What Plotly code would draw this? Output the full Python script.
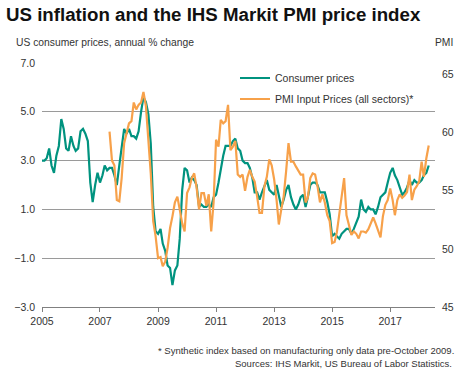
import pandas as pd
import plotly.graph_objects as go

# ---------------- data ----------------
cpi_start = "2005-01-01"
# US consumer prices, annual % change (monthly, Jan 2005 - May 2018)
cpi = [
    3.0, 3.0, 3.1, 3.5, 2.8, 2.5, 3.2, 3.6, 4.7, 4.3, 3.5, 3.4,      # 2005
    4.0, 3.6, 3.4, 3.5, 4.2, 4.3, 4.1, 3.8, 2.1, 1.3, 2.0, 2.5,      # 2006
    2.1, 2.4, 2.8, 2.6, 2.7, 2.7, 2.4, 2.0, 2.8, 3.5, 4.3, 4.1,      # 2007
    4.3, 4.0, 4.0, 3.9, 4.2, 5.0, 5.6, 5.4, 4.9, 3.7, 1.1, 0.1,      # 2008
    0.0, 0.2, -0.4, -0.7, -1.3, -1.4, -2.1, -1.5, -1.3, -0.2, 1.8, 2.7,  # 2009
    2.6, 2.1, 2.3, 2.2, 2.0, 1.1, 1.2, 1.1, 1.1, 1.2, 1.1, 1.5,      # 2010
    1.6, 2.1, 2.7, 3.2, 3.6, 3.6, 3.6, 3.8, 3.9, 3.5, 3.4, 3.0,      # 2011
    2.9, 2.9, 2.7, 2.3, 1.7, 1.7, 1.4, 1.7, 2.0, 2.2, 1.8, 1.7,      # 2012
    1.6, 2.0, 1.5, 1.1, 1.4, 1.8, 2.0, 1.5, 1.2, 1.0, 1.2, 1.5,      # 2013
    1.6, 1.1, 1.5, 2.0, 2.1, 2.1, 2.0, 1.7, 1.7, 1.7, 1.3, 0.8,      # 2014
    -0.1, 0.0, -0.1, -0.2, 0.0, 0.1, 0.2, 0.2, 0.0, 0.2, 0.5, 0.7,   # 2015
    1.4, 1.0, 0.9, 1.1, 1.0, 1.0, 0.8, 1.1, 1.5, 1.6, 1.7, 2.1,      # 2016
    2.5, 2.7, 2.4, 2.2, 1.9, 1.6, 1.7, 1.9, 2.2, 2.0, 2.2, 2.1,      # 2017
    2.1, 2.2, 2.4, 2.5, 2.8,                                          # 2018
]

pmi_start = "2007-05-01"
# PMI Input Prices (all sectors), index (monthly, May 2007 - May 2018)
pmi = [
    60.1, 57.6, 57.2, 54.2, 54.1, 56.1, 59.1, 60.0,                    # 2007
    60.8, 61.0, 62.6, 62.0, 62.4, 62.6, 63.5, 62.3, 59.7, 56.5, 52.4, 51.1,  # 2008
    49.2, 49.3, 48.5, 48.9, 50.1, 51.8, 52.8, 54.0, 54.5, 53.2, 52.2, 51.5,  # 2009
    54.8, 55.3, 56.1, 56.5, 55.3, 53.4, 54.8, 54.8, 53.7, 54.7, 51.5, 54.0,  # 2010
    59.4, 58.8, 61.1, 60.8, 61.0, 62.4, 58.5, 58.8, 59.3, 56.4, 56.2, 56.4,  # 2011
    55.0, 56.2, 56.8, 56.2, 55.8, 54.5, 53.1, 53.1, 55.4, 56.2, 57.7, 57.2,  # 2012
    56.0, 54.2, 52.1, 53.4, 54.5, 56.7, 59.1, 57.5, 57.5, 57.1, 56.8, 56.4,  # 2013
    56.4, 54.0, 54.4, 56.1, 56.5, 56.4, 55.4, 54.0, 54.7, 54.0, 52.9, 52.4,  # 2014
    50.5, 50.6, 51.4, 52.9, 54.5, 56.1, 52.9, 51.9, 51.2, 51.5, 51.3, 50.9,  # 2015
    51.5, 51.5, 51.4, 51.7, 52.2, 52.7, 52.2, 51.6, 51.0, 52.8, 53.8, 54.2,  # 2016
    55.2, 54.2, 52.9, 54.2, 54.7, 54.4, 54.6, 54.9, 56.4, 54.2, 55.1, 55.4,  # 2017
    55.8, 57.5, 56.2, 57.8, 58.9,                                      # 2018
]

left_ticks = [-3.0, -1.0, 1.0, 3.0, 5.0, 7.0]
right_ticks = [45, 50, 55, 60, 65]
year_ticks = [2005, 2007, 2009, 2011, 2013, 2015, 2017]

cpi_dates = pd.date_range(cpi_start, periods=len(cpi), freq="MS")
pmi_dates = pd.date_range(pmi_start, periods=len(pmi), freq="MS")

# ---------------- layout geometry ----------------
W, H = 467, 377
L, R, T, B = 42, 32, 63, 70
PW, PH = W - L - R, H - T - B

def px_x(x):
    return (x - L) / PW

def px_y(y):
    return (H - B - y) / PH

TEAL = "#00937f"
ORANGE = "#f7a14a"
FONT = "Liberation Sans, Arial, sans-serif"
TXT = "#333333"

fig = go.Figure()
fig.add_trace(go.Scatter(
    x=cpi_dates, y=cpi, mode="lines", name="Consumer prices",
    line=dict(color=TEAL, width=2.2), yaxis="y", legendgroup="a",
))
fig.add_trace(go.Scatter(
    x=pmi_dates, y=pmi, mode="lines", name="PMI Input Prices (all sectors)*",
    line=dict(color=ORANGE, width=2.2), yaxis="y2", legendgroup="b",
))

fig.update_layout(
    width=W, height=H,
    margin=dict(l=L, r=R, t=T, b=B, pad=0),
    paper_bgcolor="white", plot_bgcolor="white",
    font=dict(family=FONT, size=10.5, color=TXT),
    showlegend=True,
    legend=dict(
        x=px_x(235), y=px_y(63.5), xanchor="left", yanchor="top",
        bgcolor="rgba(0,0,0,0)", borderwidth=0,
        font=dict(size=10.5, color=TXT), itemwidth=30, tracegroupgap=2,
        traceorder="grouped",
    ),
    title=dict(
        text="<b>US inflation and the IHS Markit PMI price index</b>",
        x=6 / W, xanchor="left", xref="container",
        y=1 - 14.5 / H, yanchor="middle", yref="container",
        font=dict(family=FONT, size=18.7, color="#111111"),
    ),
    xaxis=dict(
        type="date",
        range=["2005-01-01", "2018-07-19"],
        tickvals=[f"{y}-01-01" for y in year_ticks],
        ticktext=[str(y) for y in year_ticks],
        ticks="outside", ticklen=4, tickcolor="#808080", tickwidth=1,
        showline=True, linecolor="#808080", linewidth=1,
        showgrid=False, zeroline=False, automargin=False,
        tickfont=dict(size=10.5, color=TXT),
        ticklabelstandoff=0,
    ),
    yaxis=dict(
        range=[-3, 7],
        tickvals=left_ticks,
        tickformat=".1f",
        showgrid=True, gridcolor="#9a9a9a", gridwidth=1,
        zeroline=False, showline=False, ticks="", automargin=False,
        tickfont=dict(size=10.5, color=TXT),
        ticklabelstandoff=6,
    ),
    yaxis2=dict(
        range=[45, 66],
        tickvals=right_ticks,
        overlaying="y", side="right",
        showgrid=False, zeroline=False, showline=False, ticks="", automargin=False,
        tickfont=dict(size=10.5, color=TXT),
        ticklabelstandoff=6,
    ),
    annotations=[
        dict(text="US consumer prices, annual % change", xref="paper", yref="paper",
             x=px_x(14), y=px_y(43), xanchor="left", yanchor="middle",
             showarrow=False, font=dict(size=10.3, color=TXT)),
        dict(text="PMI", xref="paper", yref="paper",
             x=px_x(455), y=px_y(43), xanchor="right", yanchor="middle",
             showarrow=False, font=dict(size=10.3, color=TXT)),
        dict(text="* Synthetic index based on manufacturing only data pre-October 2009.",
             xref="paper", yref="paper",
             x=px_x(456), y=px_y(350), xanchor="right", yanchor="middle",
             showarrow=False, font=dict(size=9.5, color=TXT)),
        dict(text="Sources: IHS Markit, US Bureau of Labor Statistics.",
             xref="paper", yref="paper",
             x=px_x(454), y=px_y(363), xanchor="right", yanchor="middle",
             showarrow=False, font=dict(size=9.5, color=TXT)),
    ],
)

fig.write_html(
    "out.html",
    config={"displayModeBar": False},
    post_script="document.body.style.margin='0px';document.body.style.overflow='hidden';",
)
